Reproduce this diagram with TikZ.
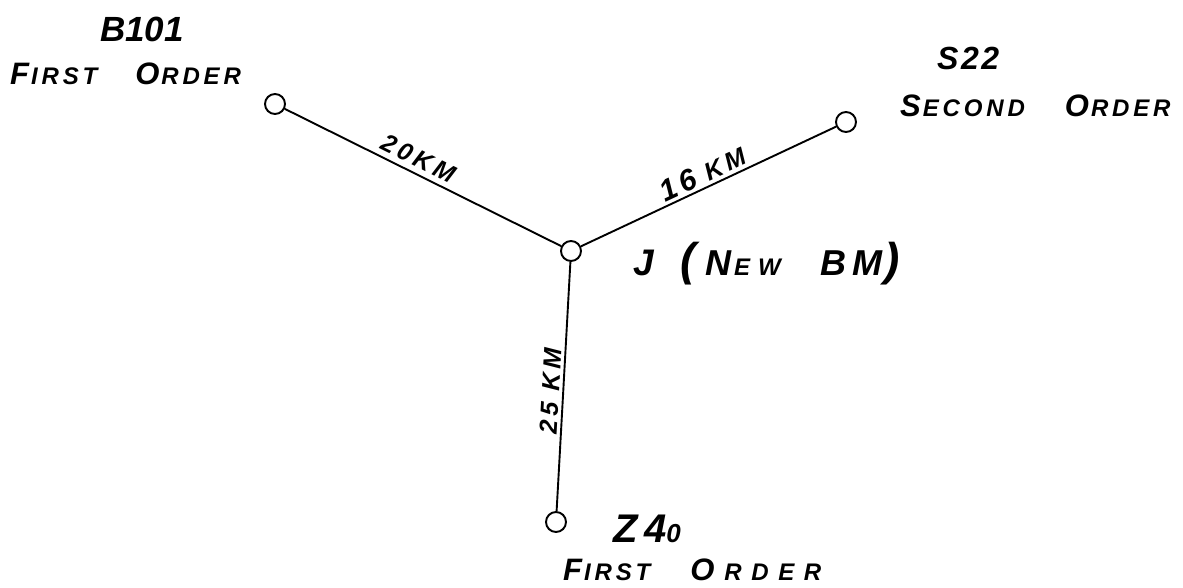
\documentclass[tikz,border=0pt]{standalone}
\usepackage{fontspec}
\setmainfont{Liberation Sans}
\newfontfamily\hand[LetterSpace=16]{Liberation Sans}
\newfontfamily\handB[LetterSpace=40]{Liberation Sans}
\newcommand\hwB[1]{{\fontsize{31}{31}\selectfont #1}}
\newcommand\hwS[1]{{\fontsize{24}{24}\selectfont #1}}
\begin{document}
\begin{tikzpicture}[x=1pt,y=-1pt,
  stn/.style={circle,draw,line width=1.9pt,minimum size=20pt,inner sep=0pt},
  leg/.style={line width=1.9pt},
  lab/.style={font=\hand\bfseries\itshape,inner sep=0pt},
  elab/.style={font=\hand\bfseries\itshape\fontsize{25}{25}\selectfont,inner sep=5pt,sloped,above}]
\useasboundingbox (0,0) rectangle (1183,588);
\node[stn] (B) at (275,104) {};
\node[stn] (S) at (846,122) {};
\node[stn] (J) at (571,251) {};
\node[stn] (Z) at (556,522) {};
\draw[leg] (B) -- node[elab,pos=.46] {20KM} (J);
\draw[leg] (J) -- node[elab,pos=.5,inner sep=3pt] {{\fontsize{30}{30}\selectfont 16} KM} (S);
\draw[leg] (Z) -- node[elab,pos=.48,inner sep=3pt] {25 KM} (J);
\node[lab,anchor=base west] (tB) at (100,42) {\fontsize{35}{35}\selectfont\addfontfeature{LetterSpace=0}B101};
\node[lab,anchor=base west] (oB) at (10,85) {\hwB{F}\hspace{2pt}\hwS{IRST}\hspace{38pt}\hwB{O}\hspace{2pt}\hwS{RDER}};
\node[lab,anchor=base west] (tS) at (937,70) {\fontsize{32}{32}\selectfont\addfontfeature{LetterSpace=8}S22};
\node[lab,anchor=base west] (oS) at (900,117) {\hwB{S}\hspace{2pt}\hwS{ECOND}\hspace{40pt}\hwB{O}\hspace{2pt}\hwS{RDER}};
\node[lab,anchor=base west] (tJ) at (633,275) {{\fontsize{37}{37}\selectfont J}\hspace{27pt}{\fontsize{46}{46}\selectfont(}\hspace{9pt}{\fontsize{36}{36}\selectfont N}\hspace{3pt}\hwS{E\hspace{8pt}W}\hspace{40pt}{\fontsize{36}{36}\selectfont BM}\hspace{2pt}{\fontsize{46}{46}\selectfont)}};
\node[lab,anchor=base west] (tZ) at (613,542) {{\fontsize{40}{40}\selectfont Z4}{\fontsize{26}{26}\selectfont 0}};
\node[lab,anchor=base west] (oZ) at (563,580) {\hwB{F}\hspace{2pt}\hwS{IRST}\hspace{40pt}\hwB{O}\hspace{10pt}{\handB\bfseries\itshape\hwS{RDER}}};
\end{tikzpicture}
\end{document}
